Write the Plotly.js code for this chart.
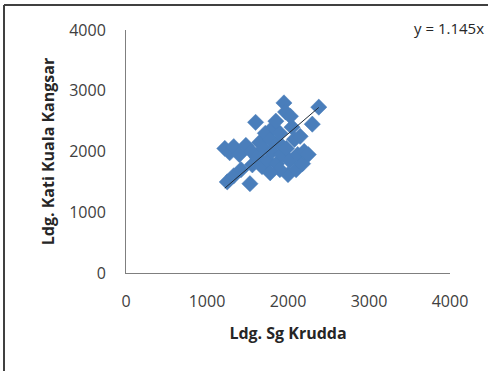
<!DOCTYPE html>
<html>
<head>
<meta charset="utf-8">
<script src="https://cdn.plot.ly/plotly-3.0.1.min.js"></script>
<style>
  html, body { margin: 0; padding: 0; background: #fff; }
  #chart { width: 488px; height: 371px; }
</style>
</head>
<body>
<div id="chart"></div>
<script>
// Daily loads at the two stations (Sg Krudda vs Kati Kuala Kangsar)
const sgKrudda = [1220, 1280, 1330, 1250, 1330, 1420, 1400, 1480, 1530, 1560,
                  1600, 1550, 1620, 1650, 1680, 1700, 1720, 1750, 1780, 1800,
                  1820, 1850, 1860, 1880, 1900, 1920, 1950, 1970, 2000, 1980,
                  2020, 2050, 2080, 2100, 2120, 2150, 2180, 2200, 2250, 2300,
                  2380, 1900, 1780, 2030];
const katiKualaKangsar = [2050, 1980, 2080, 1500, 1600, 1700, 1950, 2100, 1470, 1780,
                          2480, 2000, 1900, 2150, 1750, 2050, 2300, 1850, 2200, 2000,
                          2400, 2500, 1800, 2150, 2300, 1950, 2800, 2650, 1620, 2050,
                          1850, 2400, 2200, 1700, 1950, 2250, 1800, 2000, 1950, 2450,
                          2730, 1700, 1650, 2580];

// Linear trend through the origin
const slope = 1.145;
const trendX = [Math.min(...sgKrudda), Math.max(...sgKrudda)];
const trendY = trendX.map(v => slope * v);

const axisTickLabels = ['0', '1000', '2000', '3000', '4000'];
const axisTickVals = [0, 1000, 2000, 3000, 4000];

const fontFamily = '"Open Sans", "Liberation Sans", sans-serif';

const traces = [
  {
    x: sgKrudda,
    y: katiKualaKangsar,
    type: 'scatter',
    mode: 'markers',
    marker: { symbol: 'diamond', size: 12.5, color: '#4a7ebb',
              line: { color: '#4a7ebb', width: 0.5 } },
    hoverinfo: 'skip',
    showlegend: false
  },
  {
    x: trendX,
    y: trendY,
    type: 'scatter',
    mode: 'lines',
    line: { color: '#1f2a36', width: 1 },
    hoverinfo: 'skip',
    showlegend: false
  }
];

const axisCommon = {
  range: [0, 4000],
  tickvals: axisTickVals,
  ticktext: axisTickLabels,
  showgrid: false,
  zeroline: false,
  showline: true,
  linecolor: '#7f7f7f',
  linewidth: 1,
  ticks: '',
  tickfont: { family: fontFamily, size: 16, color: '#404040' },
  fixedrange: true
};

const layout = {
  width: 488,
  height: 371,
  margin: { l: 126, r: 38, t: 30, b: 98 },
  paper_bgcolor: '#ffffff',
  plot_bgcolor: '#ffffff',
  xaxis: Object.assign({}, axisCommon, {
    ticklabelstandoff: 14,
    title: { text: 'Ldg. Sg Krudda', standoff: 16,
             font: { family: fontFamily, size: 16, color: '#262626', weight: 'bold' } }
  }),
  yaxis: Object.assign({}, axisCommon, {
    ticklabelstandoff: 16,
    title: { text: 'Ldg. Kati Kuala Kangsar', standoff: 10,
             font: { family: fontFamily, size: 16, color: '#262626', weight: 'bold' } }
  }),
  annotations: [
    {
      xref: 'paper', yref: 'paper',
      x: 1.11, y: 1.01, xanchor: 'right', yanchor: 'middle',
      text: 'y = 1.145x', showarrow: false,
      font: { family: fontFamily, size: 15, color: '#262626' }
    }
  ],
  shapes: [
    // outer frame (top and left edges)
    { type: 'line', xref: 'paper', yref: 'paper',
      x0: -122 / 324, x1: 1.2, y0: 1 + 25 / 243, y1: 1 + 25 / 243,
      line: { color: '#404040', width: 2 } },
    { type: 'line', xref: 'paper', yref: 'paper',
      x0: -122 / 324, x1: -122 / 324, y0: 1 + 25 / 243, y1: -0.5,
      line: { color: '#404040', width: 2 } }
  ]
};

Plotly.newPlot('chart', traces, layout, { staticPlot: true, displayModeBar: false });
</script>
</body>
</html>
